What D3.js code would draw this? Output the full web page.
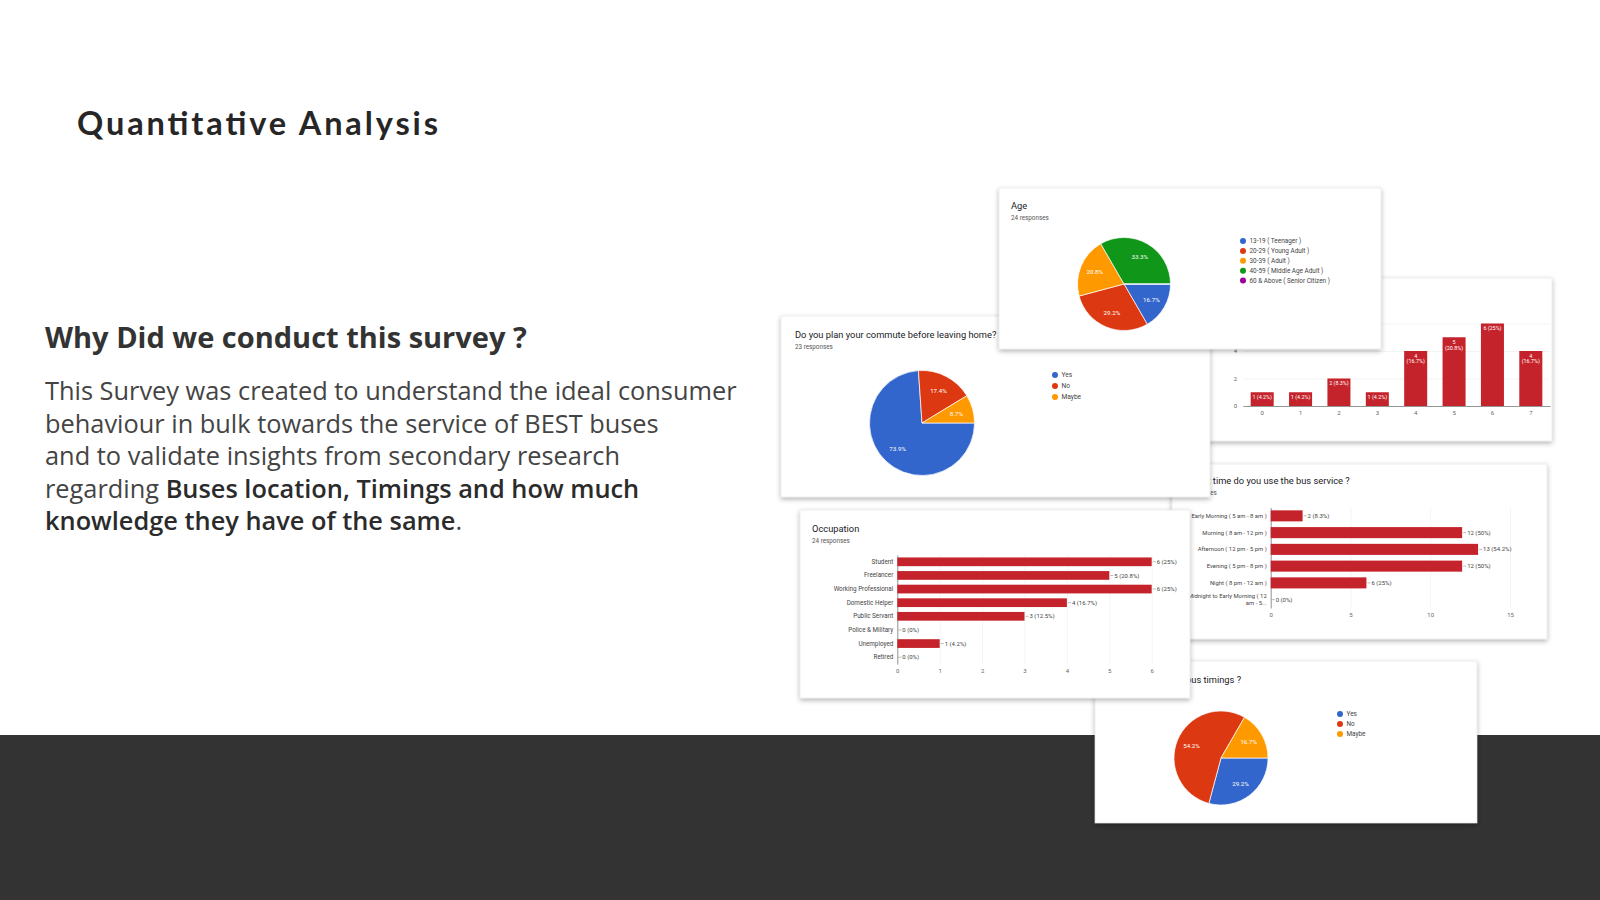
<!DOCTYPE html>
<html>
<head>
<meta charset="utf-8">
<script src="https://cdn.jsdelivr.net/npm/d3@7"></script>
<style>
body { margin: 0; background: #fff; }
svg { display: block; }
</style>
</head>
<body>
<svg id="slide" width="1600" height="900"></svg>
<script>
// survey data
var ageLabels = ["13-19 ( Teenager )", "20-29 ( Young Adult )", "30-39 ( Adult )", "40-59 ( Middle Age Adult )", "60 & Above ( Senior Citizen )"];
var ageCounts = [4, 7, 5, 8, 0];

var yesNoLabels = ["Yes", "No", "Maybe"];
var commuteCounts = [17, 4, 2];
var timingCounts = [7, 13, 4];

var ratingCats = ["0", "1", "2", "3", "4", "5", "6", "7"];
var ratingCounts = [1, 1, 2, 1, 4, 5, 6, 4];
var ratingTicks = [0, 2, 4, 6];

var timeCats = ["Early Morning ( 5 am - 8 am )", "Morning ( 8 am - 12 pm )", "Afternoon ( 12 pm - 5 pm )", "Evening ( 5 pm - 8 pm )", "Night ( 8 pm - 12 am )", "Midnight to Early Morning ( 12 am - 5 am )"];
var timeCounts = [2, 12, 13, 12, 6, 0];
var timeTicks = [0, 5, 10, 15];

var occCats = ["Student", "Freelancer", "Working Professional", "Domestic Helper", "Public Servant", "Police & Military", "Unemployed", "Retired"];
var occCounts = [6, 5, 6, 4, 3, 0, 1, 0];
var occTicks = [0, 1, 2, 3, 4, 5, 6];

var bodyLines = [
    [["This Survey was created to understand the ideal consumer", false]],
    [["behaviour in bulk towards the service of BEST buses", false]],
    [["and to validate insights from secondary research", false]],
    [["regarding ", false], ["Buses location, Timings and how much", true]],
    [["knowledge they have of the same", true], [".", false]]
];

var pieColors = ["#3366cc", "#dc3912", "#ff9900", "#109618", "#990099"];
var barColor = "#c5232b";
var chartFont = "Roboto, Arial, sans-serif";
var slideFont = "'Open Sans', Lato, sans-serif";

var svg = d3.select("#slide");

// drop shadow for the cards
var defs = svg.append("defs");
var filt = defs.append("filter").attr("id", "shadow")
    .attr("x", "-10%").attr("y", "-10%").attr("width", "120%").attr("height", "130%");
filt.append("feDropShadow")
    .attr("dx", 0).attr("dy", 2).attr("stdDeviation", 2.5)
    .attr("flood-color", "#000").attr("flood-opacity", 0.3);

// background + dark band
svg.append("rect").attr("width", 1600).attr("height", 900).attr("fill", "#fff");
svg.append("rect").attr("x", 0).attr("y", 735).attr("width", 1600).attr("height", 165).attr("fill", "#333333");

// scale a text's font size so its width matches the target
function fitWidth(sel, node, target) {
    var fs = parseFloat(sel.attr("font-size"));
    var w = node.getComputedTextLength();
    sel.attr("font-size", fs * target / w);
}

// left hand text
svg.append("text")
    .attr("x", 77).attr("y", 135)
    .attr("font-family", "Lato, sans-serif").attr("font-weight", 700)
    .attr("font-size", 32.5)
    .attr("textLength", 361).attr("lengthAdjust", "spacing")
    .attr("fill", "#262626")
    .text("Quantitative Analysis");

var head = svg.append("text")
    .attr("x", 45).attr("y", 348)
    .attr("font-family", slideFont).attr("font-weight", 700)
    .attr("font-size", 27).attr("fill", "#333")
    .text("Why Did we conduct this survey ?");
fitWidth(head, head.node(), 482);

var body = svg.append("text")
    .attr("font-family", slideFont)
    .attr("font-size", 24).attr("fill", "#444");
var firstRow = null;
bodyLines.forEach(function(line, i) {
    var row = body.append("tspan").attr("x", 45).attr("y", 400 + i * 32.6);
    if(i == 0) firstRow = row;
    line.forEach(function(part, j) {
        var ts = j == 0 ? row : body.append("tspan");
        ts.text(part[0])
            .attr("font-weight", part[1] ? 600 : 400)
            .attr("fill", part[1] ? "#2b2b2b" : "#444");
    });
});
fitWidth(body, firstRow.node(), 692);

function pct(c, total) {
    return (Math.round(c / total * 1000) / 10) + "%";
}

function card(x, y, w, h) {
    var g = svg.append("g");
    g.append("rect")
        .attr("x", x).attr("y", y).attr("width", w).attr("height", h)
        .attr("fill", "#fff").attr("stroke", "#e2e2e2").attr("stroke-width", 0.6)
        .attr("filter", "url(#shadow)");
    return g;
}

function cardTitle(g, x, y, title, sub) {
    g.append("text").attr("x", x).attr("y", y)
        .attr("font-family", chartFont).attr("font-size", 9.3).attr("fill", "#202124")
        .text(title);
    g.append("text").attr("x", x).attr("y", y + 11)
        .attr("font-family", chartFont).attr("font-size", 6.3).attr("fill", "#555")
        .text(sub);
}

function drawPie(g, counts, labels, cx, cy, r, lx, ly, lstep, fs) {
    var total = d3.sum(counts);
    var arcs = d3.pie().sort(null)
        .startAngle(Math.PI / 2).endAngle(Math.PI * 2.5)(counts);
    var arc = d3.arc().innerRadius(0).outerRadius(r);
    var labelArc = d3.arc().innerRadius(r * 0.68).outerRadius(r * 0.68);

    var pg = g.append("g").attr("transform", "translate(" + cx + "," + cy + ")");
    pg.selectAll("path")
        .data(arcs)
      .enter()
        .append("path")
        .attr("d", arc)
        .attr("fill", function(d, i) { return pieColors[i]; })
        .attr("stroke", "#fff").attr("stroke-width", 0.7);
    pg.selectAll("text")
        .data(arcs.filter(function(d) { return d.value > 0; }))
      .enter()
        .append("text")
        .attr("transform", function(d) { return "translate(" + labelArc.centroid(d) + ")"; })
        .attr("text-anchor", "middle").attr("dy", "0.35em")
        .attr("font-family", chartFont).attr("font-size", 6.2).attr("fill", "#fff")
        .text(function(d) { return pct(d.value, total); });

    var lg = g.append("g");
    labels.forEach(function(l, i) {
        lg.append("circle")
            .attr("cx", lx).attr("cy", ly + i * lstep).attr("r", 3)
            .attr("fill", pieColors[i]);
        lg.append("text")
            .attr("x", lx + 6.5).attr("y", ly + i * lstep).attr("dy", "0.35em")
            .attr("font-family", chartFont).attr("font-size", fs).attr("fill", "#444")
            .text(l);
    });
}

// wrap long category labels into two lines, second one cut with dots
function wrapLabel(sel, maxW) {
    sel.each(function() {
        var t = d3.select(this);
        if(this.getComputedTextLength() <= maxW) return;
        var words = t.text().split(" ");
        var x = t.attr("x");
        t.text(null);
        var l1 = t.append("tspan").attr("x", x).attr("dy", "-0.25em");
        var line = [];
        var rest = [];
        for(var i = 0; i < words.length; i++) {
            line.push(words[i]);
            l1.text(line.join(" "));
            if(l1.node().getComputedTextLength() > maxW) {
                line.pop();
                l1.text(line.join(" "));
                rest = words.slice(i);
                break;
            }
        }
        t.append("tspan").attr("x", x).attr("dy", "1.15em")
            .text(rest.slice(0, 3).join(" ") + "...");
    });
}

function drawHBars(g, cats, counts, ticks, total, x0, x1, y0, y1, pad, maxW, catSize) {
    var x = d3.scaleLinear().domain([0, ticks[ticks.length - 1]]).range([x0, x1]);
    var y = d3.scaleBand().domain(cats).range([y0, y1]).paddingInner(pad).paddingOuter(pad / 2);

    var grid = g.append("g").attr("transform", "translate(0," + y1 + ")")
        .call(d3.axisBottom(x).tickValues(ticks).tickFormat(d3.format("d"))
            .tickSize(-(y1 - y0)).tickPadding(5));
    grid.select(".domain").remove();
    grid.selectAll("line").attr("stroke", "#ececec").attr("stroke-width", 0.6);
    grid.selectAll("text").attr("font-family", chartFont).attr("font-size", 6).attr("fill", "#666");

    var left = g.append("g").attr("transform", "translate(" + x0 + ",0)")
        .call(d3.axisLeft(y).tickSize(0).tickPadding(4));
    left.select(".domain").attr("stroke", "#555").attr("stroke-width", 0.6);
    left.selectAll("text").attr("font-family", chartFont).attr("font-size", catSize).attr("fill", "#444")
        .call(wrapLabel, maxW);

    g.append("g").selectAll("rect")
        .data(counts)
      .enter()
        .append("rect")
        .attr("x", x0)
        .attr("y", function(d, i) { return y(cats[i]); })
        .attr("width", function(d) { return x(d) - x0; })
        .attr("height", y.bandwidth())
        .attr("fill", barColor);

    var vl = g.append("g");
    counts.forEach(function(d, i) {
        var cy = y(cats[i]) + y.bandwidth() / 2;
        vl.append("line")
            .attr("x1", x(d) + 1).attr("x2", x(d) + 4)
            .attr("y1", cy).attr("y2", cy)
            .attr("stroke", "#777").attr("stroke-width", 0.5);
        vl.append("text")
            .attr("x", x(d) + 5).attr("y", cy).attr("dy", "0.35em")
            .attr("font-family", chartFont).attr("font-size", 6).attr("fill", "#444")
            .text(d + " (" + pct(d, total) + ")");
    });
}

// --- cards, back to front ---

// linear scale 0-7 (title hidden behind other cards)
var rc = card(1168, 278, 384, 163);
cardTitle(rc, 1182, 298, "How would you rate the BEST bus service ?", "24 responses");
(function() {
    var x = d3.scaleBand().domain(ratingCats).range([1243, 1550]).paddingInner(0.4).paddingOuter(0.2);
    var y = d3.scaleLinear().domain([0, 6]).range([406, 323.5]);
    var grid = rc.append("g").attr("transform", "translate(1243,0)")
        .call(d3.axisLeft(y).tickValues(ratingTicks).tickFormat(d3.format("d"))
            .tickSize(-(1550 - 1243)).tickPadding(6));
    grid.select(".domain").remove();
    grid.selectAll("line").attr("stroke", "#ececec").attr("stroke-width", 0.6);
    grid.selectAll("text").attr("font-family", chartFont).attr("font-size", 6).attr("fill", "#666");
    var bottom = rc.append("g").attr("transform", "translate(0,406)")
        .call(d3.axisBottom(x).tickSize(0).tickPadding(5));
    bottom.select(".domain").attr("stroke", "#555").attr("stroke-width", 0.6);
    bottom.selectAll("text").attr("font-family", chartFont).attr("font-size", 6).attr("fill", "#666");

    rc.append("g").selectAll("rect")
        .data(ratingCounts)
      .enter()
        .append("rect")
        .attr("x", function(d, i) { return x(ratingCats[i]); })
        .attr("y", function(d) { return y(d); })
        .attr("width", x.bandwidth())
        .attr("height", function(d) { return 406 - y(d); })
        .attr("fill", barColor);

    var total = d3.sum(ratingCounts);
    ratingCounts.forEach(function(d, i) {
        var lbl = d + " (" + pct(d, total) + ")";
        var cx = x(ratingCats[i]) + x.bandwidth() / 2;
        var t = rc.append("text")
            .attr("x", cx).attr("y", y(d) + 6.5)
            .attr("text-anchor", "middle")
            .attr("font-family", chartFont).attr("font-size", 5.4).attr("fill", "#fff");
        if(lbl.length > 8) {
            t.append("tspan").attr("x", cx).text(d);
            t.append("tspan").attr("x", cx).attr("dy", "1.1em").text("(" + pct(d, total) + ")");
        }
        else {
            t.text(lbl);
        }
    });
})();

// time of use
var tc = card(1172, 464, 375, 175);
cardTitle(tc, 1179, 484, "At what time do you use the bus service ?", "24 responses");
drawHBars(tc, timeCats, timeCounts, timeTicks, 24, 1270.7, 1510, 507.5, 608, 0.34, 80, 5.9);

// bus timings pie
var bc = card(1095, 661, 382, 162);
cardTitle(bc, 1099, 683, "Are you aware of the bus timings ?", "24 responses");
drawPie(bc, timingCounts, yesNoLabels, 1221, 758, 47, 1340, 714, 10, 6.4);

// commute pie
var cc = card(781, 316, 429, 181);
cardTitle(cc, 795, 338, "Do you plan your commute before leaving home?", "23 responses");
drawPie(cc, commuteCounts, yesNoLabels, 922, 423, 52.5, 1055, 375, 11, 6.6);

// age pie
var ac = card(999, 188, 382, 161);
cardTitle(ac, 1011, 209, "Age", "24 responses");
drawPie(ac, ageCounts, ageLabels, 1124, 284, 46.5, 1243, 241, 9.9, 6.4);

// occupation
var oc = card(800, 510, 390, 188);
cardTitle(oc, 812, 532, "Occupation", "24 responses");
drawHBars(oc, occCats, occCounts, occTicks, 24, 897.3, 1151.7, 555, 664, 0.36, 120, 6.3);
</script>
</body>
</html>
